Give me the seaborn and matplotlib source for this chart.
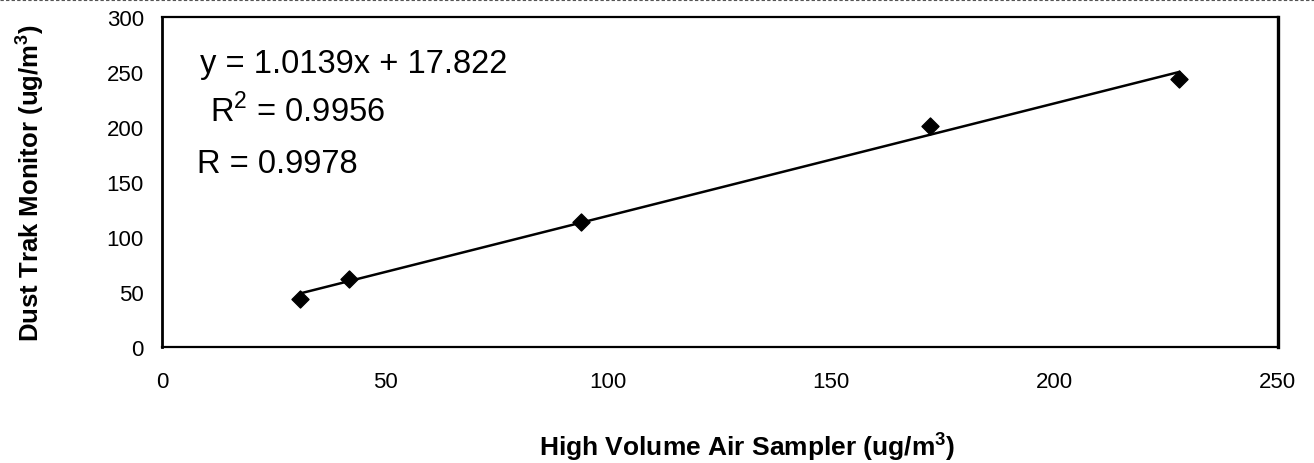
import matplotlib
matplotlib.use("Agg")
import matplotlib.pyplot as plt
import seaborn as sns
import pandas as pd
from matplotlib.lines import Line2D

# Data
high_volume = [31, 42, 94, 172, 228]
dust_trak = [44, 62, 114, 201, 244]
x_ticks = [0, 50, 100, 150, 200, 250]
y_ticks = [0, 50, 100, 150, 200, 250, 300]
eq_text = "y = 1.0139x + 17.822"
r2_text = "R$^2$ = 0.9956"
r_text = "R = 0.9978"
x_label = "High Volume Air Sampler (ug/m$^\\mathbf{3}$)"
y_label = "Dust Trak Monitor (ug/m$^\\mathbf{3}$)"

df = pd.DataFrame({"hv": high_volume, "dt": dust_trak})

sns.set_theme(style="white")
plt.rcParams["font.family"] = ["Liberation Sans", "DejaVu Sans"]
plt.rcParams["mathtext.fontset"] = "custom"
plt.rcParams["mathtext.rm"] = "Liberation Sans"
plt.rcParams["mathtext.bf"] = "Liberation Sans:bold"
plt.rcParams["text.color"] = "black"
plt.rcParams["axes.labelcolor"] = "black"

fig = plt.figure(figsize=(13.14, 4.64), dpi=100)
ax = fig.add_axes([0.1233, 0.25, 0.849, 0.711])

sns.regplot(data=df, x="hv", y="dt", ax=ax, ci=None, truncate=True,
            marker="D",
            scatter_kws=dict(color="black", s=75, edgecolor="black",
                             alpha=1, zorder=3),
            line_kws=dict(color="black", linewidth=1.8))

ax.set_xlim(0, 250)
ax.set_ylim(0, 300)
ax.set_xticks(x_ticks)
ax.set_yticks(y_ticks)
ax.tick_params(axis="both", labelsize=16, direction="out", length=5, width=1.2,
               colors="black", pad=8)
ax.tick_params(axis="x", pad=12)
for s in ax.spines.values():
    s.set_visible(True)
    s.set_color("black")
    s.set_linewidth(1.6)
ax.spines["right"].set_linewidth(2.4)
ax.spines["left"].set_linewidth(2.0)

ax.set_xlabel(x_label, fontsize=19, fontweight="bold", labelpad=27)
ax.xaxis.label.set_x(0.525)
ax.set_ylabel(y_label, fontsize=18.5, fontweight="bold", labelpad=44)

ax.text(0.034, 0.833, eq_text, transform=ax.transAxes, fontsize=23.5, va="baseline")
ax.text(0.043, 0.685, r2_text, transform=ax.transAxes, fontsize=23.5, va="baseline")
ax.text(0.031, 0.530, r_text, transform=ax.transAxes, fontsize=23.5, va="baseline")

fig.add_artist(Line2D([0, 1], [0.998, 0.998], transform=fig.transFigure,
                      color="#555555", linewidth=0.8, linestyle=(0, (3, 2))))

fig.savefig("out.png", dpi=100, facecolor="white")
